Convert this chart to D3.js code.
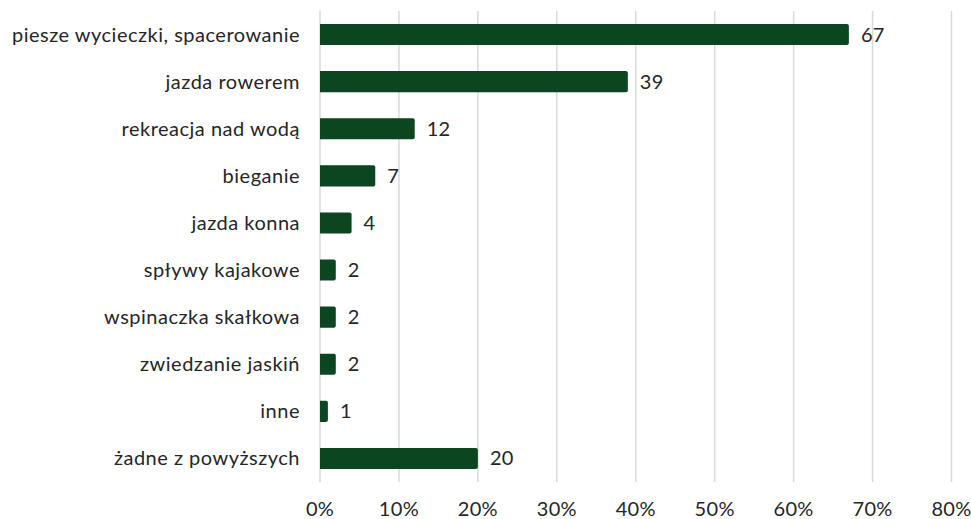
<!DOCTYPE html>
<html><head><meta charset="utf-8">
<script src="https://cdn.jsdelivr.net/npm/d3@7"></script>
<style>body{margin:0;background:#fff}svg{display:block}text{font-family:Lato,"Open Sans",sans-serif;fill:#262626}</style>
</head><body><svg id="c" width="971" height="519"></svg>
<script>
const categories = ["piesze wycieczki, spacerowanie","jazda rowerem","rekreacja nad wodą","bieganie","jazda konna","spływy kajakowe","wspinaczka skałkowa","zwiedzanie jaskiń","inne","żadne z powyższych"];
const values = [67,39,12,7,4,2,2,2,1,20];
const tickValues = [0,10,20,30,40,50,60,70,80];
const tickLabels = ["0%","10%","20%","30%","40%","50%","60%","70%","80%"];

const svg = d3.select("#c");
const x = d3.scaleLinear().domain([0,80]).range([320,951.5]);
const y = d3.scaleBand().domain(categories).range([11,482]).paddingInner(0.553).paddingOuter(0.2765);

svg.append("g").selectAll("line").data(tickValues).join("line")
  .attr("x1",d=>x(d)).attr("x2",d=>x(d)).attr("y1",11).attr("y2",482)
  .attr("stroke","#d9d9d9").attr("stroke-width",1.5);

svg.append("g").selectAll("path").data(values).join("path")
  .attr("fill","#0b4620")
  .attr("d",(d,i)=>{
    const x0=x(0), x1=x(d), y0=y(categories[i]), h=y.bandwidth(), r=Math.min(2,(x1-x0)/2);
    return `M${x0},${y0}H${x1-r}Q${x1},${y0} ${x1},${y0+r}V${y0+h-r}Q${x1},${y0+h} ${x1-r},${y0+h}H${x0}Z`;
  });

svg.append("g").selectAll("text").data(values).join("text")
  .attr("x",d=>x(d)+12).attr("y",(d,i)=>y(categories[i])+y.bandwidth()/2)
  .attr("dy","0.35em").attr("font-size",20).attr("letter-spacing",0.3).text(d=>d);

svg.append("g").selectAll("text").data(categories).join("text")
  .attr("x",300).attr("y",d=>y(d)+y.bandwidth()/2).attr("dy","0.35em")
  .attr("text-anchor","end").attr("font-size",20).attr("letter-spacing",0.5).text(d=>d);

svg.append("g").selectAll("text").data(tickValues).join("text")
  .attr("x",d=>x(d)).attr("y",509).attr("dy","0.35em")
  .attr("text-anchor","middle").attr("font-size",20).attr("letter-spacing",0.3).text((d,i)=>tickLabels[i]);
</script></body></html>
